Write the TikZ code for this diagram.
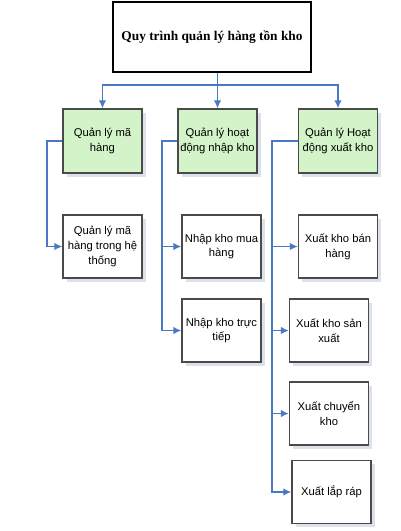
\documentclass[tikz,border=0pt]{standalone}
\usepackage{fontspec}
\setmainfont{Liberation Serif}
\newfontfamily\boxfont{Liberation Sans}
\usetikzlibrary{arrows.meta,positioning,shadows}
\definecolor{LinkBlue}{HTML}{4A78C2}
\definecolor{MintGreen}{HTML}{D3F3C8}
\definecolor{EdgeGray}{HTML}{4A4A4A}
\definecolor{ShadeGray}{HTML}{DCE1EC}

\begin{document}
\begin{tikzpicture}[
  x=0.02cm, y=-0.02cm,
  title/.style={draw=black, line width=0.7pt, fill=white, minimum width=3.96cm, minimum height=1.4cm, align=center, font=\fontsize{7.6}{9}\selectfont\bfseries},
  box/.style={draw=EdgeGray, line width=0.7pt, fill=white, minimum width=1.58cm, minimum height=1.26cm, align=center, inner sep=1pt,
    font=\boxfont\fontsize{6.4}{8.4}\selectfont,
    drop shadow={shadow xshift=2pt, shadow yshift=-2pt, fill=ShadeGray, opacity=1}},
  head/.style={box, fill=MintGreen, minimum height=1.28cm},
  arr/.style={-{Latex[length=1.6mm, width=1.5mm]}, line width=1.1pt, LinkBlue}
]
\useasboundingbox (0,0) rectangle (400,531);
% top
\node[title] (top) at (212,37) {Quy trình quản lý hàng tồn kho};
% level one
\node[head] (ma) at (102.5,141) {Quản lý mã\\hàng};
\node[head] (nhap) at (217.5,141) {Quản lý hoạt\\động nhập kho};
\node[head] (xuat) at (338,141) {Quản lý Hoạt\\động xuất kho};
% level two
\node[box] (mahe) at (102.5,246.5) {Quản lý mã\\hàng trong hệ\\thống};
\node[box] (nhapmua) at (221.5,246.5) {Nhập kho mua\\hàng};
\node[box] (nhaptt) at (221.5,330.5) {Nhập kho trực\\tiếp};
\node[box] (xuatban) at (338,246.5) {Xuất kho bán\\hàng};
\node[box] (xuatsx) at (329,330.5) {Xuất kho sản\\xuất};
\node[box] (xuatck) at (329,413.5) {Xuất chuyển\\kho};
\node[box] (xuatlr) at (331.5,492) {Xuất lắp ráp};
% links
\draw[arr] (top.south -| nhap.north) -- (nhap.north);
\draw[arr] (top.south -| nhap.north) -- ++(0,12) -| (ma.north);
\draw[arr] (top.south -| nhap.north) -- ++(0,12) -| (xuat.north);
\draw[arr] (ma.west) -- ++(-15,0) |- (mahe.west);
\draw[arr] (nhap.west) -- ++(-15,0) |- (nhapmua.west);
\draw[arr] (nhap.west) -- ++(-15,0) |- (nhaptt.west);
\draw[arr] (xuat.west) -- ++(-26,0) |- (xuatban.west);
\draw[arr] (xuat.west) -- ++(-26,0) |- (xuatsx.west);
\draw[arr] (xuat.west) -- ++(-26,0) |- (xuatck.west);
\draw[arr] (xuat.west) -- ++(-26,0) |- (xuatlr.west);
\end{tikzpicture}
\end{document}
